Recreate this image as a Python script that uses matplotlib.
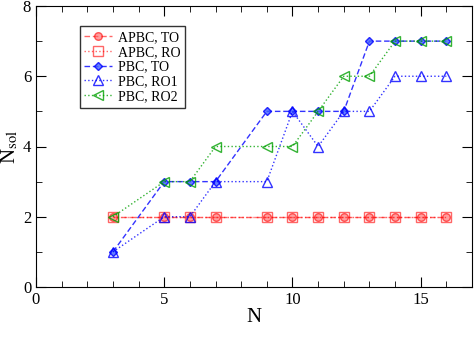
import numpy as np
import matplotlib
matplotlib.use("Agg")
import matplotlib.pyplot as plt
from matplotlib.ticker import MultipleLocator

plt.rcParams['font.family'] = ['Liberation Serif', 'DejaVu Serif']
plt.rcParams['mathtext.fontset'] = 'stix'

# data
N = [3, 5, 6, 7, 9, 10, 11, 12, 13, 14, 15, 16]
apbc_to = [2, 2, 2, 2, 2, 2, 2, 2, 2, 2, 2, 2]
apbc_ro = [2, 2, 2, 2, 2, 2, 2, 2, 2, 2, 2, 2]
pbc_to = [1, 3, 3, 3, 5, 5, 5, 5, 7, 7, 7, 7]
pbc_ro1 = [1, 2, 2, 3, 3, 5, 4, 5, 5, 6, 6, 6]
pbc_ro2 = [2, 3, 3, 4, 4, 4, 5, 6, 6, 7, 7, 7]

fig = plt.figure(figsize=(4.74, 3.44), dpi=100)
ax = fig.add_axes([36/474, 1 - 287/344, 436/474, 281/344])

red = '#ff0000'
blue = '#0000ff'
green = '#00a000'

ax.plot(N, apbc_to, ls=(0, (4, 2)), color=red, alpha=0.6, lw=1,
        marker='o', ms=5.5, mfc='#ff6060', mec=red, label='APBC, TO')
ax.plot(N, apbc_ro, ls=':', color=red, alpha=0.6, lw=1,
        marker='s', ms=6.5, mfc='none', mec=red, label='APBC, RO')
ax.plot(N, pbc_to, ls=(0, (4, 2)), color=blue, alpha=0.8, lw=1,
        marker='D', ms=4.5, mfc='#4060ff', mec=blue, label='PBC, TO')
ax.plot(N, pbc_ro1, ls=':', color=blue, alpha=0.8, lw=1,
        marker='^', ms=7, mfc='none', mec=blue, label='PBC, RO1')
ax.plot(N, pbc_ro2, ls=':', color=green, alpha=0.8, lw=1,
        marker='<', ms=7, mfc='none', mec=green, label='PBC, RO2')

ax.set_xlim(0, 17)
ax.set_ylim(0, 8)
ax.xaxis.set_major_locator(MultipleLocator(5))
ax.xaxis.set_minor_locator(MultipleLocator(1))
ax.yaxis.set_major_locator(MultipleLocator(2))
ax.yaxis.set_minor_locator(MultipleLocator(1))
ax.tick_params(which='both', direction='in', top=True, right=True, labelsize=12)
ax.tick_params(which='major', length=7)
ax.tick_params(which='minor', length=4)

ax.set_xlabel('N', fontsize=15, labelpad=0)
ax.set_ylabel(r'N$_{\rm sol}$', fontsize=15)
ax.yaxis.set_label_coords(-0.035, 0.5)

leg = ax.legend(loc='upper left', bbox_to_anchor=(0.1, 0.928), fontsize=10,
                frameon=True, fancybox=False, edgecolor='black',
                handlelength=2.0, handletextpad=0.4, labelspacing=0.12,
                borderpad=0.35, borderaxespad=0)
leg.get_frame().set_linewidth(1)

fig.savefig('out.png', dpi=100)
